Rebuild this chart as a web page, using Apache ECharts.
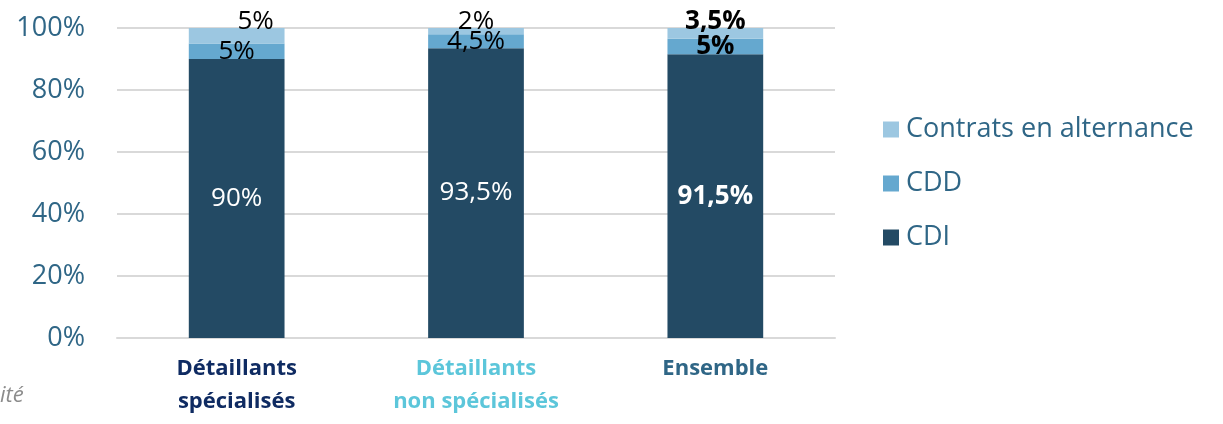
<!DOCTYPE html>
<html lang="fr" style="height: 100%">
<head>
  <meta charset="utf-8">
</head>
<body style="height: 100%; margin: 0">
  <div id="container" style="width: 1223px; height: 424px"></div>

  <script type="text/javascript" src="https://fastly.jsdelivr.net/npm/echarts@6/dist/echarts.min.js"></script>
  <script type="text/javascript">
    var categories = ['Détaillants\nspécialisés', 'Détaillants\nnon spécialisés', 'Ensemble'];
    var cdi = [90, 93.5, 91.5];
    var cdd = [5, 4.5, 5];
    var alternance = [5, 2, 3.5];
    var yTicks = [0, 20, 40, 60, 80, 100];

    var FONT = '"Open Sans", sans-serif';
    var catColors = ['#0f2b62', '#5cc6da', '#2f6686'];

    var dom = document.getElementById('container');
    var myChart = echarts.init(dom, null, { renderer: 'canvas' });

    function pct(v) {
      return String(v).replace('.', ',') + '%';
    }

    // last category gets bold labels
    function items(values, extra) {
      return values.map(function (v, i) {
        var item = { value: v };
        var label = {};
        if (i === values.length - 1) label.fontWeight = 'bold';
        if (extra && extra[i]) Object.assign(label, extra[i]);
        item.label = label;
        return item;
      });
    }

    var option = {
      backgroundColor: '#fff',
      textStyle: { fontFamily: FONT },
      grid: { left: 117, right: 388, top: 28, bottom: 86 },
      legend: {
        orient: 'vertical',
        left: 878,
        top: 111,
        itemWidth: 16,
        itemHeight: 16,
        itemGap: 27,
        icon: 'rect',
        data: ['Contrats en alternance', 'CDD', 'CDI'],
        textStyle: { fontFamily: FONT, fontSize: 27, color: '#2f6686', padding: [0, 0, 0, 2] }
      },
      xAxis: {
        type: 'category',
        data: categories,
        axisTick: { show: false },
        axisLine: { lineStyle: { color: '#d9d9d9', width: 2 } },
        axisLabel: {
          margin: 14,
          interval: 0,
          formatter: function (v, i) {
            return v.split('\n').map(function (s) { return '{c' + i + '|' + s + '}'; }).join('\n');
          },
          rich: {
            c0: { color: catColors[0], fontWeight: 'bold', fontSize: 22, lineHeight: 33, fontFamily: FONT },
            c1: { color: catColors[1], fontWeight: 'bold', fontSize: 22, lineHeight: 33, fontFamily: FONT },
            c2: { color: catColors[2], fontWeight: 'bold', fontSize: 22, lineHeight: 33, fontFamily: FONT }
          }
        }
      },
      yAxis: {
        type: 'value',
        min: yTicks[0],
        max: yTicks[yTicks.length - 1],
        interval: 20,
        axisLine: { show: false },
        axisTick: { show: false },
        splitLine: { lineStyle: { color: '#d9d9d9', width: 2 } },
        axisLabel: {
          margin: 32,
          fontSize: 27,
          color: '#2f6686',
          fontFamily: FONT,
          formatter: '{value}%'
        }
      },
      series: [
        {
          name: 'CDI',
          type: 'bar',
          stack: 'total',
          barWidth: '40%',
          itemStyle: { color: '#234a64' },
          label: {
            show: true,
            position: 'inside',
            color: '#fff',
            fontSize: 26,
            fontFamily: FONT,
            formatter: function (p) { return pct(p.value); }
          },
          data: items(cdi)
        },
        {
          name: 'CDD',
          type: 'bar',
          stack: 'total',
          itemStyle: { color: '#65a8cf' },
          label: {
            show: true,
            position: 'inside',
            color: '#000',
            fontSize: 26,
            fontFamily: FONT,
            formatter: function (p) { return pct(p.value); }
          },
          data: items(cdd)
        },
        {
          name: 'Contrats en alternance',
          type: 'bar',
          stack: 'total',
          itemStyle: { color: '#9cc7e1' },
          label: {
            show: true,
            position: 'top',
            distance: 0,
            offset: [0, 7],
            color: '#000',
            fontSize: 26,
            fontFamily: FONT,
            formatter: function (p) { return pct(p.value); }
          },
          data: items(alternance, [{ offset: [19, 7] }])
        }
      ],
      graphic: [
        {
          type: 'text',
          left: 0,
          top: 385,
          style: {
            text: 'ité',
            fontFamily: FONT,
            fontStyle: 'italic',
            fontSize: 22,
            fill: '#8c8c8c'
          }
        }
      ]
    };

    myChart.setOption(option);
    window.addEventListener('resize', myChart.resize);
  </script>
</body>
</html>
